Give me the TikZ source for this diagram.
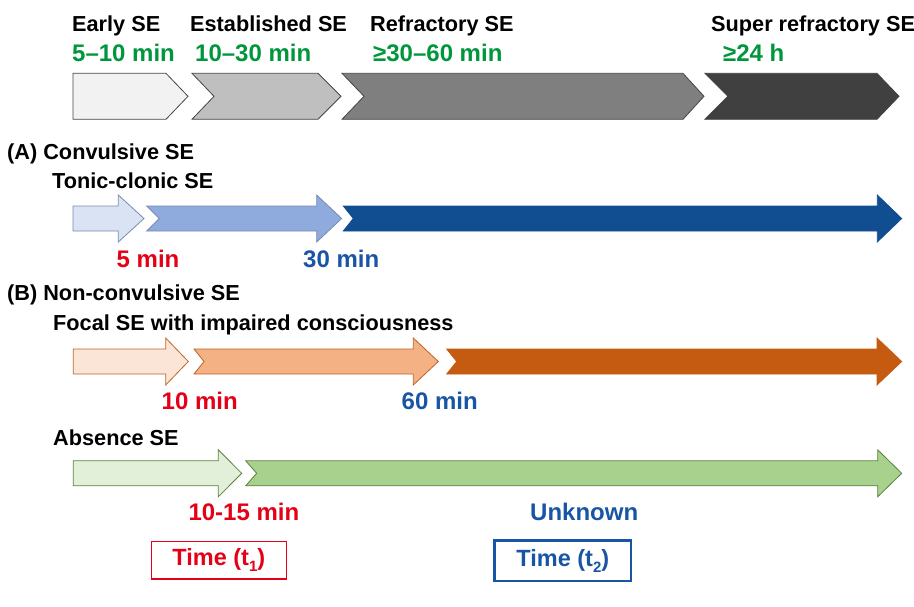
\documentclass[tikz,border=0pt]{standalone}
\usepackage{fontspec}
\setmainfont{Liberation Sans}
\definecolor{durgreen}{RGB}{0,150,60}
\definecolor{tred}{RGB}{228,0,22}
\definecolor{tblue}{RGB}{25,85,165}
\definecolor{g1}{RGB}{242,242,242}
\definecolor{g2}{RGB}{191,191,191}
\definecolor{g3}{RGB}{127,127,127}
\definecolor{g4}{RGB}{64,64,64}
\definecolor{gline}{RGB}{70,70,70}
\definecolor{b1}{RGB}{218,227,243}
\definecolor{b2}{RGB}{143,170,220}
\definecolor{b3}{RGB}{16,78,145}
\definecolor{bline}{RGB}{120,140,175}
\definecolor{o1}{RGB}{251,229,214}
\definecolor{o2}{RGB}{244,177,131}
\definecolor{o3}{RGB}{197,90,17}
\definecolor{oline}{RGB}{190,100,40}
\definecolor{e1}{RGB}{226,240,217}
\definecolor{e2}{RGB}{169,209,142}
\definecolor{eline}{RGB}{90,130,60}
% chevron: style, left, notch depth, body right, tip  (top 73.3, bottom 119.3)
\newcommand{\mychev}[5]{\draw[#1] (#2,73.3) -- (#4,73.3) -- (#5,96.3) -- (#4,119.3) -- (#2,119.3) -- (#2+#3,96.3) -- cycle;}
% block arrow: style, left, notch depth, head start, tip, centre y
\newcommand{\myarrow}[6]{\draw[#1] (#2,#6-12.5) -- (#4,#6-12.5) -- (#4,#6-23.5) -- (#5,#6) -- (#4,#6+23.5) -- (#4,#6+12.5) -- (#2,#6+12.5) -- (#2+#3,#6) -- cycle;}
\newcommand{\tsub}[1]{\raisebox{-0.28em}{\fontsize{15}{15}\selectfont #1}}
\begin{document}
\begin{tikzpicture}[x=1pt,y=-1pt,line join=miter,
  hdr/.style={anchor=base west,inner sep=0pt,font=\fontsize{21.7}{25}\selectfont\bfseries},
  dur/.style={anchor=base west,inner sep=0pt,font=\fontsize{24}{28}\selectfont\bfseries,text=durgreen},
  redlab/.style={anchor=base west,inner sep=0pt,font=\fontsize{24}{28}\selectfont\bfseries,text=tred},
  bluelab/.style={anchor=base west,inner sep=0pt,font=\fontsize{24}{28}\selectfont\bfseries,text=tblue},
  timebox/.style={draw,inner sep=0pt,font=\fontsize{23.5}{27}\selectfont\bfseries,anchor=north west}]
\useasboundingbox (0,0) rectangle (914,606);
% top stage headers
\node[hdr] (early) at (72,31) {Early SE};
\node[hdr] (estab) at (190,31) {Established SE};
\node[hdr] (refr) at (370,31) {Refractory SE};
\node[hdr] (super) at (711,31) {Super refractory SE};
\node[dur] (d1) at (72,61.5) {5–10 min};
\node[dur] (d2) at (195,61.5) {10–30 min};
\node[dur] (d3) at (373,61.5) {≥30–60 min};
\node[dur] (d4) at (723,61.5) {≥24 h};
% chevrons
\mychev{fill=g1,draw=gline,line width=0.8pt}{73}{0}{166}{188}
\mychev{fill=g2,draw=gline,line width=0.8pt}{192}{22}{318}{341}
\mychev{fill=g3,draw=gline,line width=0.8pt}{342}{22}{683}{704}
\mychev{fill=g4,draw=g4,line width=0.8pt}{705}{23}{877}{899}
% (A)
\node[hdr] (A) at (7,159) {(A) Convulsive SE};
\node[hdr] (tc) at (52,188) {Tonic-clonic SE};
\myarrow{fill=b1,draw=bline,line width=0.8pt}{73}{0}{118.3}{144}{218.5}
\myarrow{fill=b2,draw=bline,line width=0.8pt}{146.7}{12.6}{316.7}{341.7}{218.5}
\myarrow{fill=b3,draw=b3,line width=0.8pt}{343.3}{10}{877.3}{901.7}{218.5}
\node[redlab] (m5) at (116.5,267) {5 min};
\node[bluelab] (m30) at (303,267) {30 min};
% (B)
\node[hdr] (B) at (7,300) {(B) Non-convulsive SE};
\node[hdr] (focal) at (53,330) {Focal SE with impaired consciousness};
\myarrow{fill=o1,draw=oline,line width=0.8pt}{73.3}{0}{165.7}{188.3}{361.5}
\myarrow{fill=o2,draw=oline,line width=0.8pt}{194}{10}{413.3}{438.3}{361.5}
\myarrow{fill=o3,draw=o3,line width=0.8pt}{446.7}{10}{877}{901.7}{361.5}
\node[redlab] (m10) at (161.5,409.5) {10 min};
\node[bluelab] (m60) at (401.5,409.5) {60 min};
% absence
\node[hdr] (abs) at (53,445) {Absence SE};
\myarrow{fill=e1,draw=eline,line width=0.8pt}{73.3}{0}{218.3}{241.7}{473.3}
\myarrow{fill=e2,draw=eline,line width=0.8pt}{245.7}{11}{877.7}{901.7}{473.3}
\node[redlab] (m1015) at (188.3,520.5) {10-15 min};
\node[bluelab] (unk) at (530,520.5) {Unknown};
% time boxes
\node[timebox,draw=tred,text=tred,line width=1.3pt,minimum width=135pt,minimum height=37.6pt] (t1) at (150.7,540.7) {Time (t\tsub{1})};
\node[timebox,draw=tblue,text=tblue,line width=2.4pt,minimum width=136.7pt,minimum height=40.7pt] (t2) at (493.3,539.3) {Time (t\tsub{2})};
\end{tikzpicture}
\end{document}
